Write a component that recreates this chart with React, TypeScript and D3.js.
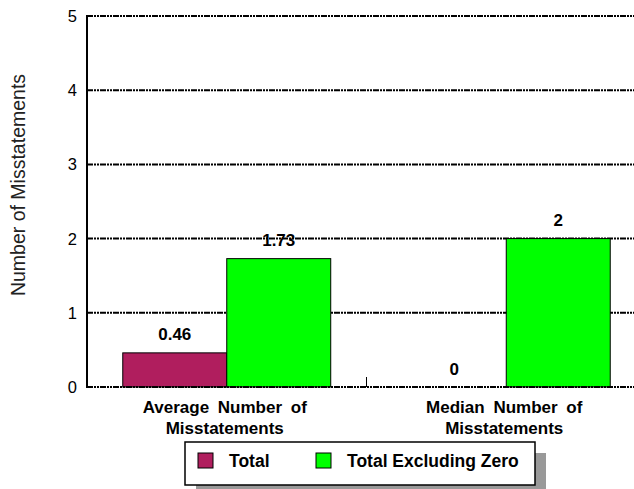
import React from "react";
import * as d3 from "d3";

const categories = ["Average Number of\nMisstatements", "Median Number of\nMisstatements"];
const series = ["Total", "Total Excluding Zero"];
const totalValues = [0.46, 0];
const excludingZeroValues = [1.73, 2];
const valueLabels = [["0.46", "1.73"], ["0", "2"]];
const yTicks = [0, 1, 2, 3, 4, 5];
const colors = ["#B01E5E", "#00FF00"];

const W = 634;
const H = 489;
const left = 87;
const right = 646;
const top = 16;
const bottom = 387;

const FONT = "Arial, 'Liberation Sans', Helvetica, sans-serif";
const DASH = "6,1,2,1,2,1";

export default function App() {
  const x0 = d3.scaleBand<string>().domain(categories).range([left, right]).paddingInner(0).paddingOuter(0);
  const x1 = d3.scaleBand<string>().domain(series).range([0, x0.bandwidth()]).paddingInner(0).paddingOuter(0.344);
  const y = d3.scaleLinear().domain([0, 5]).range([bottom, top]);
  const seriesValues = [totalValues, excludingZeroValues];

  return (
    <svg width={W} height={H} style={{ position: "absolute", left: 0, top: 0, background: "#fff" }} fontFamily={FONT}>
      <rect x={0} y={0} width={W} height={H} fill="#fff" />
      {/* gridlines */}
      {yTicks.filter((t) => t > 0).map((t) => (
        <line key={t} x1={left} x2={right} y1={y(t)} y2={y(t)} stroke="#000" strokeWidth={2} strokeDasharray={DASH} />
      ))}
      {/* bars */}
      {categories.map((c, ci) =>
        series.map((s, si) => {
          const v = seriesValues[si][ci];
          const bx = (x0(c) as number) + (x1(s) as number);
          return (
            <g key={c + s}>
              {v > 0 && (
                <rect x={bx} y={y(v)} width={x1.bandwidth()} height={y(0) - y(v)} fill={colors[si]} stroke="#000" strokeWidth={1} />
              )}
              <text x={bx + x1.bandwidth() / 2} y={y(v) - 12.5} textAnchor="middle" fontSize={17} fontWeight="bold" fill="#000">
                {valueLabels[ci][si]}
              </text>
            </g>
          );
        })
      )}
      {/* x axis */}
      <line x1={left} x2={right} y1={y(0)} y2={y(0)} stroke="#000" strokeWidth={2} strokeDasharray={DASH} />
      {categories.slice(1).map((c) => (
        <line key={c} x1={x0(c) as number} x2={x0(c) as number} y1={y(0) - 10} y2={y(0)} stroke="#000" strokeWidth={1} />
      ))}
      {/* y axis */}
      <line x1={left} x2={left} y1={top - 1} y2={bottom + 1} stroke="#000" strokeWidth={2} />
      {yTicks.map((t) => (
        <text key={t} x={77} y={y(t) + 6} textAnchor="end" fontSize={16.5} fill="#000">
          {t}
        </text>
      ))}
      <text transform={`translate(25,185) rotate(-90)`} textAnchor="middle" fontSize={19.5} fill="#222">
        Number of Misstatements
      </text>
      {/* category labels */}
      {categories.map((c) =>
        c.split("\n").map((line, li) => (
          <text
            key={c + li}
            x={(x0(c) as number) + x0.bandwidth() / 2 - 2}
            y={413 + li * 20.5}
            textAnchor="middle"
            fontSize={17}
            fontWeight="bold"
            wordSpacing={4}
            fill="#000"
          >
            {line}
          </text>
        ))
      )}
      {/* legend */}
      <rect x={196} y={453} width={350} height={43} fill="#999" />
      <rect x={185} y={442} width={350} height={43} fill="#fff" stroke="#000" strokeWidth={1.5} />
      {series.map((s, si) => {
        const lx = [198, 316][si];
        return (
          <g key={s}>
            <rect x={lx} y={453} width={15} height={15} fill={colors[si]} stroke="#000" strokeWidth={1} />
            <text x={lx + 31} y={467} fontSize={17.5} fontWeight="bold" fill="#000">
              {s}
            </text>
          </g>
        );
      })}
    </svg>
  );
}
